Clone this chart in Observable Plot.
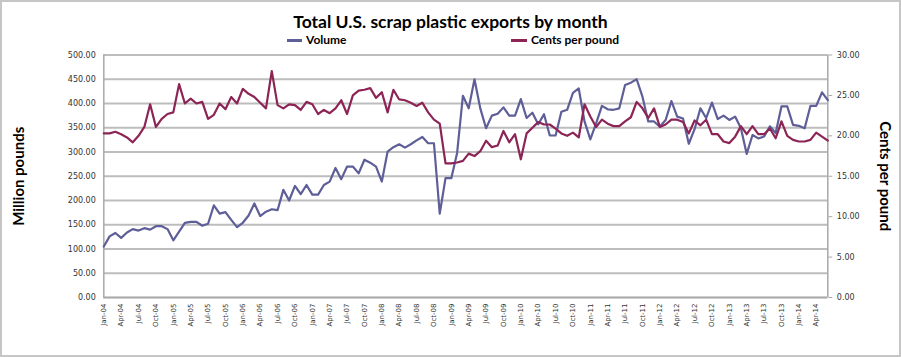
<!DOCTYPE html>
<html><head><meta charset="utf-8">
<script src="https://cdn.jsdelivr.net/npm/d3@7"></script>
<script src="https://cdn.jsdelivr.net/npm/@observablehq/plot@0.6"></script>
<style>
html,body{margin:0;padding:0;background:#fff;}
#wrap{position:relative;width:901px;height:357px;overflow:hidden;font-family:Lato,"Open Sans",sans-serif;}
#frame{position:absolute;left:0;top:0;width:901px;height:357px;box-sizing:border-box;border:2px solid #c6c6c6;pointer-events:none;}
#title{position:absolute;left:0;width:901px;top:12px;text-align:center;font-weight:bold;font-size:17.5px;line-height:20px;color:#000;}
.legtxt{position:absolute;top:33px;font-size:12px;line-height:14px;font-weight:bold;color:#000;}
.sw{position:absolute;top:39px;height:3px;}
#chart{position:absolute;left:0;top:0;}
</style></head>
<body>
<div id="wrap">
  <div id="chart"></div>
  <div id="title">Total U.S. scrap plastic exports by month</div>
  <div class="sw" style="left:287px;width:15px;background:#5e5e98"></div>
  <div class="legtxt" style="left:306px">Volume</div>
  <div class="sw" style="left:511px;width:16px;background:#8c2556"></div>
  <div class="legtxt" style="left:531px">Cents per pound</div>
  <div id="frame"></div>
</div>
<script>
const months = [
 "Jan-04","Feb-04","Mar-04","Apr-04","May-04","Jun-04","Jul-04","Aug-04","Sep-04","Oct-04","Nov-04","Dec-04",
 "Jan-05","Feb-05","Mar-05","Apr-05","May-05","Jun-05","Jul-05","Aug-05","Sep-05","Oct-05","Nov-05","Dec-05",
 "Jan-06","Feb-06","Mar-06","Apr-06","May-06","Jun-06","Jul-06","Aug-06","Sep-06","Oct-06","Nov-06","Dec-06",
 "Jan-07","Feb-07","Mar-07","Apr-07","May-07","Jun-07","Jul-07","Aug-07","Sep-07","Oct-07","Nov-07","Dec-07",
 "Jan-08","Feb-08","Mar-08","Apr-08","May-08","Jun-08","Jul-08","Aug-08","Sep-08","Oct-08","Nov-08","Dec-08",
 "Jan-09","Feb-09","Mar-09","Apr-09","May-09","Jun-09","Jul-09","Aug-09","Sep-09","Oct-09","Nov-09","Dec-09",
 "Jan-10","Feb-10","Mar-10","Apr-10","May-10","Jun-10","Jul-10","Aug-10","Sep-10","Oct-10","Nov-10","Dec-10",
 "Jan-11","Feb-11","Mar-11","Apr-11","May-11","Jun-11","Jul-11","Aug-11","Sep-11","Oct-11","Nov-11","Dec-11",
 "Jan-12","Feb-12","Mar-12","Apr-12","May-12","Jun-12","Jul-12","Aug-12","Sep-12","Oct-12","Nov-12","Dec-12",
 "Jan-13","Feb-13","Mar-13","Apr-13","May-13","Jun-13","Jul-13","Aug-13","Sep-13","Oct-13","Nov-13","Dec-13",
 "Jan-14","Feb-14","Mar-14","Apr-14","May-14","Jun-14"
];
// Volume, million pounds
const volume = [
 105,126,133,123,134,141,138,143,140,147,147,141,
 118,136,154,156,156,148,152,190,173,176,160,145,
 154,169,194,168,177,182,180,222,200,230,213,232,
 212,212,232,239,267,244,270,270,256,284,278,270,
 239,301,310,316,309,316,324,331,318,318,173,246,
 246,298,416,390,450,390,349,375,379,392,375,375,
 409,370,381,357,378,334,334,383,387,422,431,363,
 326,359,395,388,387,390,438,443,450,414,363,363,
 352,366,405,373,369,317,347,390,370,402,368,375,
 366,373,349,296,335,328,332,353,339,394,394,356,
 354,349,395,395,423,407
];
// Cents per pound
const cents = [
 20.3,20.3,20.5,20.2,19.8,19.2,20.0,21.1,23.9,21.1,22.1,22.7,
 22.9,26.4,24.0,24.6,24.0,24.2,22.1,22.6,24.0,23.3,24.8,24.0,
 25.8,25.2,24.8,24.1,23.4,28.0,23.8,23.4,23.9,23.8,23.2,24.2,
 23.9,22.7,23.2,22.8,23.4,24.4,22.7,25.0,25.6,25.7,25.9,24.7,
 25.4,22.9,25.7,24.5,24.4,24.1,23.7,24.1,22.9,22.0,21.5,16.6,
 16.6,16.7,16.9,17.8,17.5,18.1,19.4,18.6,18.8,20.6,19.2,20.2,
 17.1,20.3,21.0,21.7,21.4,21.4,20.9,20.3,20.0,20.4,19.8,23.9,
 22.4,21.1,22.0,21.5,21.2,21.2,21.8,22.3,24.2,23.4,22.2,23.4,
 21.1,21.4,22.0,22.0,21.7,20.3,21.9,21.3,22.0,20.2,20.2,19.3,
 19.1,19.9,21.2,20.2,21.2,20.2,20.2,20.9,19.7,21.8,20.0,19.5,
 19.3,19.3,19.5,20.4,19.9,19.4
];
const volumeTicks = [0,50,100,150,200,250,300,350,400,450,500];
const centsTicks = [0,5,10,15,20,25,30];
const xTickLabels = ["Jan-04","Apr-04","Jul-04","Oct-04","Jan-05","Apr-05","Jul-05","Oct-05",
 "Jan-06","Apr-06","Jul-06","Oct-06","Jan-07","Apr-07","Jul-07","Oct-07","Jan-08","Apr-08","Jul-08","Oct-08",
 "Jan-09","Apr-09","Jul-09","Oct-09","Jan-10","Apr-10","Jul-10","Oct-10","Jan-11","Apr-11","Jul-11","Oct-11",
 "Jan-12","Apr-12","Jul-12","Oct-12","Jan-13","Apr-13","Jul-13","Oct-13","Jan-14","Apr-14"];

const k = 500 / 30; // cents -> volume-axis units
const rows = months.map((m, i) => ({month: m, volume: volume[i], cents: cents[i]}));
const axisGray = "#a8a8a8";

const chart = Plot.plot({
  width: 901, height: 357,
  marginLeft: 103.3, marginRight: 73.7, marginTop: 54.5, marginBottom: 60,
  x: {type: "point", domain: months, padding: 0},
  y: {domain: [0, 500]},
  style: {fontFamily: "'DejaVu Sans', sans-serif", background: "transparent", overflow: "visible"},
  marks: [
    Plot.gridY(volumeTicks, {stroke: "#bdbdbd", strokeOpacity: 1, strokeWidth: 2}),
    Plot.ruleX([months[0]], {y1: 0, y2: 500, stroke: axisGray, strokeWidth: 1.5}),
    Plot.ruleX([months[months.length - 1]], {y1: 0, y2: 500, stroke: axisGray, strokeWidth: 1.5}),
    Plot.ruleY([0], {stroke: axisGray, strokeWidth: 1.5}),
    Plot.axisY(volumeTicks, {anchor: "left", tickSize: 0, tickPadding: 8, fontSize: 8, fill: "#333",
      tickFormat: d => d.toFixed(2), label: null}),
    Plot.axisY(centsTicks.map(c => c * k), {anchor: "right", tickSize: 4, tickPadding: 5, fontSize: 8, fill: "#333",
      stroke: axisGray, tickFormat: v => (v / k).toFixed(2), label: null}),
    Plot.axisX(xTickLabels, {anchor: "bottom", tickSize: 0, tickPadding: 6, tickRotate: -90, fontSize: 7, fill: "#333", label: null}),
    Plot.line(rows, {x: "month", y: "volume", stroke: "#5e5e98", strokeWidth: 2.2}),
    Plot.line(rows, {x: "month", y: d => d.cents * k, stroke: "#8c2556", strokeWidth: 2.2}),
    Plot.text(["Million pounds"], {text: d => d, frameAnchor: "left", textAnchor: "middle", rotate: -90, dx: -85,
      fontSize: 15, fontWeight: "bold", fontFamily: "Lato, sans-serif", fill: "#000"}),
    Plot.text(["Cents per pound"], {text: d => d, frameAnchor: "right", textAnchor: "middle", rotate: 90, dx: 57,
      fontSize: 15, fontWeight: "bold", fontFamily: "Lato, sans-serif", fill: "#000"})
  ]
});
document.getElementById("chart").appendChild(chart);
</script>
</body></html>
